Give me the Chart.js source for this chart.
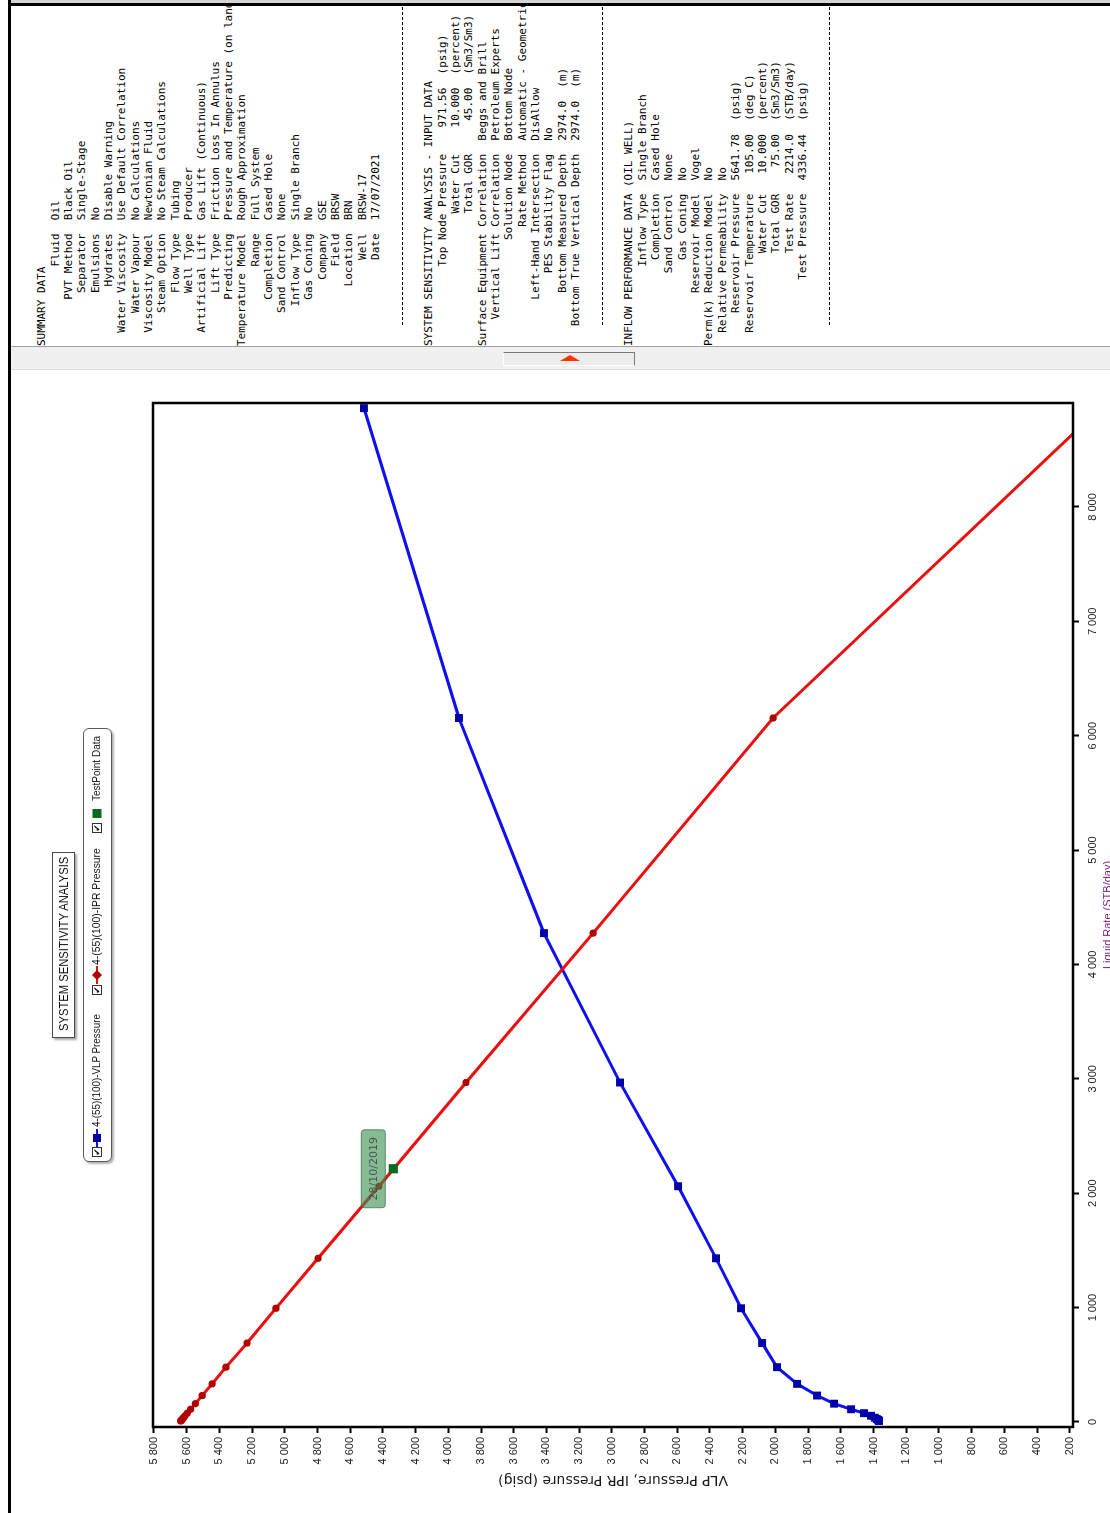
<!DOCTYPE html>
<html>
<head>
<meta charset="utf-8">
<title>System Sensitivity Analysis</title>
<script src="https://cdn.jsdelivr.net/npm/chart.js@4.4.1/dist/chart.umd.min.js"></script>
<style>
  html, body { margin: 0; padding: 0; background: #fff; }
  body { width: 1110px; height: 1513px; overflow: hidden; position: relative; }
  /* the report sheet is laid out landscape and turned a quarter-turn */
  #sheet {
    position: absolute; left: 0; top: 0; width: 1513px; height: 1110px;
    transform-origin: 0 0; transform: translate(0, 1513px) rotate(-90deg);
    background: #fff; overflow: hidden;
  }
  .abs { position: absolute; }
  #edgeTop { left: 0; top: 8px; width: 1513px; height: 3px; background: #000; }
  #edgeRight { left: 1507px; top: 8px; width: 3px; height: 1102px; background: #000; }
  #edgeGrey { left: 1510px; top: 11px; width: 3px; height: 1099px; background: #d4d4d4; }
  #splitter { left: 1143px; top: 11px; width: 24px; height: 1099px; background: #f0f0f0; box-sizing: border-box;
              border-right: 1px solid #a0a0a0; border-left: 1px solid #dadada; }
  #grip { left: 1147px; top: 503px; width: 14px; height: 132px; background: #ececec; box-sizing: border-box;
          border-right: 1px solid #7a7a7a; border-bottom: 1px solid #7a7a7a; border-left: 1px solid #fff; border-top: 1px solid #fff; }
  #gripArrow { left: 1152px; top: 560px; width: 0; height: 0;
               border-top: 10px solid transparent; border-bottom: 10px solid transparent; border-left: 6px solid #ff3300; }
  #panel { left: 1167px; top: 11px; width: 340px; height: 1099px; overflow: hidden; }
  #report { position: absolute; left: 0; top: 24.3px; margin: 0; color: #000;
            font: 11px/13.35px 'DejaVu Sans Mono', 'Liberation Mono', monospace; white-space: pre; }
  .rule { position: absolute; left: 21px; width: 330px; height: 1px;
          background: repeating-linear-gradient(to right, #000 0 3px, transparent 3px 5px); }
  #plotWrap { left: 0; top: 11px; width: 1143px; height: 1099px; }
  #chartTitle { left: 475px; top: 52px; width: 186px; height: 23px; box-sizing: border-box;
                border: 1px solid #4a4a4a; background: #fff; box-shadow: -2px 2px 2px rgba(0,0,0,0.35);
                font: 12px 'Liberation Sans', Arial, sans-serif; color: #111; white-space: nowrap; overflow: visible; }
  #chartTitle span { position: absolute; left: 0; top: 4px; line-height: 14px; transform-origin: 0 50%; }
  #legend { left: 351px; top: 83px; width: 434px; height: 29px; box-sizing: border-box;
            border: 1.5px solid #5a5a5a; border-radius: 6px; background: #fff;
            box-shadow: -2px 2px 2px rgba(0,0,0,0.3);
            font: 10px 'Liberation Sans', Arial, sans-serif; color: #111; }
  .chk { position: absolute; top: 8px; width: 10px; height: 10px; box-sizing: border-box; border: 1px solid #333;
         background: #fff; font: bold 9px 'DejaVu Sans', sans-serif; line-height: 9px; text-align: center; color: #000; }
  .mk { position: absolute; top: 8px; }
  .lt { position: absolute; top: 7px; line-height: 12px; white-space: nowrap; transform-origin: 0 50%; }
</style>
</head>
<body>
<div id="sheet">
  <div id="plotWrap" class="abs"><canvas id="chart" width="1143" height="1099"></canvas></div>
  <div id="chartTitle" class="abs"><span>SYSTEM SENSITIVITY ANALYSIS</span></div>
  <div id="legend" class="abs"></div>
  <div id="splitter" class="abs"></div>
  <div id="grip" class="abs"></div>
  <div id="gripArrow" class="abs"></div>
  <div id="panel" class="abs"><pre id="report"></pre></div>
  <div id="edgeTop" class="abs"></div>
  <div id="edgeRight" class="abs"></div>
  <div id="edgeGrey" class="abs"></div>
</div>
<script>
// ---- chart data ----
const rateStb = [8864, 6155, 4274, 2968, 2061, 1431, 994, 690, 479, 333, 231, 160, 111, 77, 54, 37, 26, 18, 12.5, 8.7];
const vlpPsig = [4516, 3935, 3415, 2950, 2595, 2363, 2210, 2081, 1990, 1867, 1745, 1641, 1537, 1458, 1415, 1392, 1380, 1372, 1368, 1366];
const iprPsig = [14.7, 2014, 3115, 3892, 4424, 4797, 5054, 5231, 5360, 5445, 5505, 5547, 5576, 5596, 5610, 5620, 5626, 5631, 5634, 5637];
const testRate = [2214.0];
const testPressure = [4336.44];
const testDate = ['28/10/2019'];
const seriesNames = ['4-(55)(100)-VLP Pressure', '4-(55)(100)-IPR Pressure', 'TestPoint Data'];
const rateTicks = [0, 1000, 2000, 3000, 4000, 5000, 6000, 7000, 8000];
const pressureTicks = [200, 400, 600, 800, 1000, 1200, 1400, 1600, 1800, 2000, 2200, 2400, 2600, 2800, 3000,
                       3200, 3400, 3600, 3800, 4000, 4200, 4400, 4600, 4800, 5000, 5200, 5400, 5600, 5800];

// ---- report text ----
const summaryRows = [
  ['Fluid', 'Oil'], ['PVT Method', 'Black Oil'], ['Separator', 'Single-Stage'], ['Emulsions', 'No'],
  ['Hydrates', 'Disable Warning'], ['Water Viscosity', 'Use Default Correlation'], ['Water Vapour', 'No Calculations'],
  ['Viscosity Model', 'Newtonian Fluid'], ['Steam Option', 'No Steam Calculations'], ['Flow Type', 'Tubing'],
  ['Well Type', 'Producer'], ['Artificial Lift', 'Gas Lift (Continuous)'], ['Lift Type', 'Friction Loss In Annulus'],
  ['Predicting', 'Pressure and Temperature (on land)'], ['Temperature Model', 'Rough Approximation'],
  ['Range', 'Full System'], ['Completion', 'Cased Hole'], ['Sand Control', 'None'], ['Inflow Type', 'Single Branch'],
  ['Gas Coning', 'No'], ['Company', 'GSE'], ['Field', 'BRSW'], ['Location', 'BRN'], ['Well', 'BRSW-17'],
  ['Date', '17/07/2021']
];
const inputRows = [
  ['Top Node Pressure', '  971.56  (psig)'], ['Water Cut', '  10.000  (percent)'], ['Total GOR', '   45.00  (Sm3/Sm3)'],
  ['Surface Equipment Correlation', 'Beggs and Brill'], ['Vertical Lift Correlation', 'Petroleum Experts'],
  ['Solution Node', 'Bottom Node'], ['Rate Method', 'Automatic - Geometric'], ['Left-Hand Intersection', 'DisAllow'],
  ['PES Stability Flag', 'No'], ['Bottom Measured Depth', '2974.0  (m)'], ['Bottom True Vertical Depth', '2974.0  (m)']
];
const inflowRows = [
  ['Inflow Type', 'Single Branch'], ['Completion', 'Cased Hole'], ['Sand Control', 'None'], ['Gas Coning', 'No'],
  ['Reservoir Model', 'Vogel'], ['Perm(k) Reduction Model', 'No'], ['Relative Permeability', 'No'],
  ['Reservoir Pressure', '5641.78  (psig)'], ['Reservoir Temperature', ' 105.00  (deg C)'],
  ['Water Cut', ' 10.000  (percent)'], ['Total GOR', '  75.00  (Sm3/Sm3)'], ['Test Rate', ' 2214.0  (STB/day)'],
  ['Test Pressure', '4336.44  (psig)']
];

(function buildReport() {
  const lines = [];
  const rules = [];
  lines.push('SUMMARY DATA');
  summaryRows.forEach(r => lines.push(r[0].padStart(17) + '  ' + r[1]));
  lines.push(''); rules.push(lines.length); lines.push(''); lines.push('');
  lines.push('SYSTEM SENSITIVITY ANALYSIS - INPUT DATA');
  inputRows.forEach(r => lines.push(r[0].padStart(29) + '  ' + r[1]));
  lines.push(''); rules.push(lines.length); lines.push(''); lines.push('');
  lines.push('INFLOW PERFORMANCE DATA (OIL WELL)');
  inflowRows.forEach(r => lines.push(r[0].padStart(23) + '  ' + r[1]));
  lines.push(''); rules.push(lines.length); lines.push('');
  const pre = document.getElementById('report');
  pre.textContent = lines.join('\n');
  const panel = document.getElementById('panel');
  const lh = 13.35, top0 = 24.3;
  rules.forEach(i => {
    const d = document.createElement('div');
    d.className = 'rule';
    d.style.top = (top0 + i * lh + lh / 2 - 0.5) + 'px';
    panel.appendChild(d);
  });
})();

// squeeze a text element horizontally to a given width (condensed caption face)
function fitWidth(el, target, left) {
  const w = el.offsetWidth;
  if (w > 0) el.style.transform = 'scaleX(' + (target / w) + ')';
  if (left !== undefined) el.style.left = left + 'px';
}

// ---- title ----
fitWidth(document.querySelector('#chartTitle span'), 174, 6);

// ---- legend ----
(function buildLegend() {
  const lg = document.getElementById('legend');
  const marks = [
    '<svg width="18" height="10"><line x1="0" y1="5" x2="18" y2="5" stroke="#1414e6" stroke-width="2"/><rect x="5" y="1" width="8" height="8" fill="#0000a8"/></svg>',
    '<svg width="18" height="10"><line x1="0" y1="5" x2="18" y2="5" stroke="#e61414" stroke-width="2"/><path d="M9 0 L14 5 L9 10 L4 5 Z" fill="#b00000"/></svg>',
    '<svg width="12" height="10"><rect x="1" y="0.5" width="9" height="9" fill="#0a6a1e"/></svg>'
  ];
  const chkX = [4, 166, 328], mkX = [14, 177, 342], txX = [34, 196, 360], txW = [113, 117, 65];
  seriesNames.forEach((n, i) => {
    lg.insertAdjacentHTML('beforeend',
      '<div class="chk" style="left:' + chkX[i] + 'px">&#10004;</div>' +
      '<div class="mk" style="left:' + mkX[i] + 'px">' + marks[i] + '</div>' +
      '<div class="lt" id="lt' + i + '" style="left:' + txX[i] + 'px">' + n + '</div>');
    fitWidth(document.getElementById('lt' + i), txW[i]);
  });
})();

// ---- chart ----
const spaced = v => String(v).replace(/\B(?=(\d{3})+(?!\d))/g, ' ');
const toPoints = (xs, ys) => xs.map((x, i) => ({ x: x, y: ys[i] }));

const plotFrame = {
  id: 'plotFrame',
  afterDatasetsDraw(chart) {
    const a = chart.chartArea, ctx = chart.ctx;
    ctx.save();
    ctx.strokeStyle = '#000';
    ctx.lineWidth = 2.5;
    ctx.strokeRect(a.left, a.top, a.right - a.left, a.bottom - a.top);
    ctx.restore();
  }
};

const testLabel = {
  id: 'testLabel',
  afterDraw(chart) {
    const xs = chart.scales.x, ys = chart.scales.y, ctx = chart.ctx;
    testRate.forEach((r, i) => {
      const px = xs.getPixelForValue(r), py = ys.getPixelForValue(testPressure[i]);
      const w = 78, h = 24, x0 = px - w / 2, y0 = py - 8 - h;
      ctx.save();
      ctx.beginPath();
      ctx.roundRect(x0, y0, w, h, 3);
      ctx.fillStyle = 'rgba(62,146,84,0.62)';
      ctx.fill();
      ctx.strokeStyle = 'rgba(40,110,60,0.7)';
      ctx.lineWidth = 1;
      ctx.stroke();
      ctx.fillStyle = 'rgba(60,72,60,0.85)';
      ctx.font = "11px 'DejaVu Sans', sans-serif";
      ctx.textAlign = 'center';
      ctx.textBaseline = 'middle';
      ctx.fillText(testDate[i], px, y0 + h / 2 + 1);
      ctx.restore();
    });
  }
};

Chart.defaults.font.family = "'Liberation Sans', Arial, sans-serif";

new Chart(document.getElementById('chart'), {
  type: 'scatter',
  data: {
    datasets: [
      {
        label: seriesNames[0], order: 2,
        data: toPoints(rateStb, vlpPsig), showLine: true, tension: 0,
        borderColor: '#1010ee', borderWidth: 3,
        pointStyle: 'rect', pointRadius: 5.6, pointBorderWidth: 0,
        pointBackgroundColor: '#0000a8', pointBorderColor: '#0000a8'
      },
      {
        label: seriesNames[1], order: 1,
        data: toPoints(rateStb, iprPsig), showLine: true, tension: 0,
        borderColor: '#e81010', borderWidth: 3,
        pointStyle: 'circle', pointRadius: 3.6, pointBorderWidth: 0,
        pointBackgroundColor: '#b00000', pointBorderColor: '#b00000'
      },
      {
        label: seriesNames[2], order: 0,
        data: toPoints(testRate, testPressure), showLine: false,
        pointStyle: 'rect', pointRadius: 6.5, pointBorderWidth: 0,
        pointBackgroundColor: '#0a6a1e', pointBorderColor: '#0a6a1e'
      }
    ]
  },
  options: {
    responsive: false,
    devicePixelRatio: 1,
    animation: false,
    events: [],
    layout: { padding: { top: 142, right: 33, left: 0, bottom: 0 } },
    plugins: { legend: { display: false }, tooltip: { enabled: false } },
    scales: {
      x: {
        type: 'linear', position: 'bottom', min: -44, max: 8909,
        afterBuildTicks: s => { s.ticks = rateTicks.map(v => ({ value: v })); },
        afterFit: s => { s.height = 37; },
        ticks: { callback: v => spaced(v), color: '#222', font: { size: 11 }, padding: 7,
                 maxRotation: 0, autoSkip: false },
        grid: { drawOnChartArea: false, drawTicks: true, tickLength: 6, tickColor: '#000', tickWidth: 2 },
        border: { display: false },
        title: { display: true, text: 'Liquid Rate (STB/day)', color: '#7a1a7a',
                 font: { size: 11, lineHeight: 0.4 }, padding: 0 }
      },
      y: {
        type: 'linear', position: 'left', min: 180, max: 5806,
        afterBuildTicks: s => { s.ticks = pressureTicks.map(v => ({ value: v })); },
        afterFit: s => { s.width = 86; },
        ticks: { callback: v => spaced(v), color: '#222', font: { size: 11 }, padding: 4, autoSkip: false },
        grid: { drawOnChartArea: false, drawTicks: true, tickLength: 6, tickColor: '#000', tickWidth: 2 },
        border: { display: false },
        title: { display: true, text: 'VLP Pressure, IPR Pressure (psig)', color: '#1a1a1a',
                 font: { size: 14, family: "'DejaVu Sans', sans-serif" }, padding: { top: 25, bottom: 0 } }
      }
    }
  },
  plugins: [plotFrame, testLabel]
});
</script>
</body>
</html>
